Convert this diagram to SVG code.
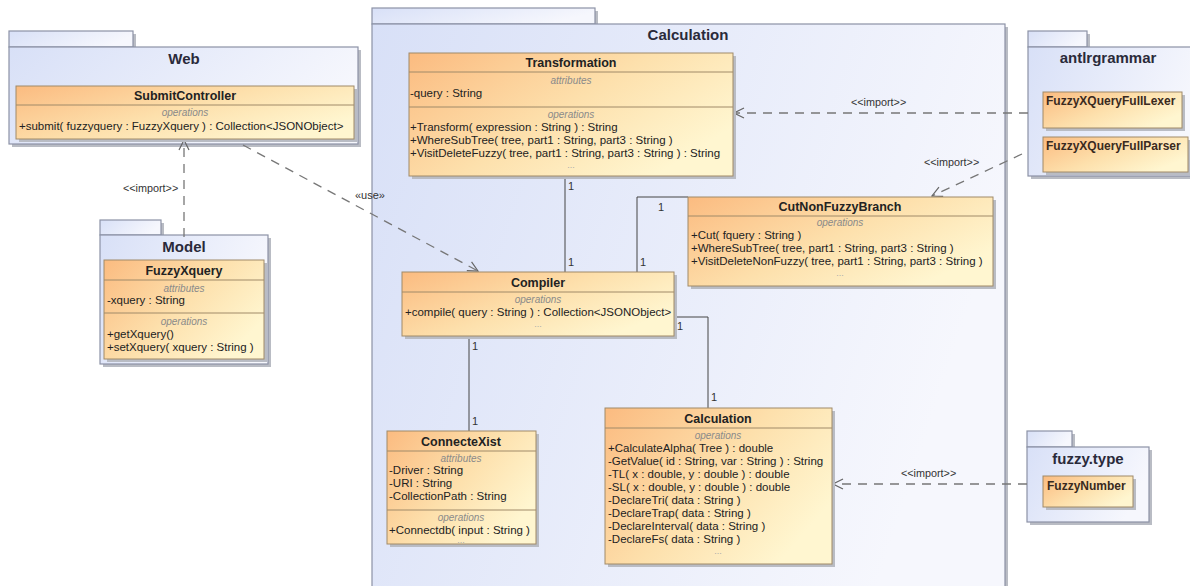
<svg xmlns="http://www.w3.org/2000/svg" width="1190" height="586" viewBox="0 0 1190 586">
<defs>
<linearGradient id="pkg" x1="0" y1="0" x2="1" y2="0.3">
<stop offset="0" stop-color="#d8e0f7"/>
<stop offset="1" stop-color="#f6f7fd"/>
</linearGradient>
<linearGradient id="cls" x1="0" y1="0" x2="1" y2="0.6">
<stop offset="0" stop-color="#fbbb80"/>
<stop offset="0.55" stop-color="#fde0ac"/>
<stop offset="1" stop-color="#fff6d0"/>
</linearGradient>
<marker id="open" viewBox="0 0 12 12" refX="11" refY="6" markerWidth="12" markerHeight="12" markerUnits="userSpaceOnUse" orient="auto">
<path d="M1,1 L11,6 L1,11" fill="none" stroke="#666" stroke-width="1.2"/>
</marker>
</defs>
<style>
.pk{fill:url(#pkg);stroke:#8c92a6;stroke-width:1.2}
.sh{fill:#b9bcc4}
.cl{fill:url(#cls);stroke:#a08a68;stroke-width:1}
.sep{stroke:#a08a68;stroke-width:1}
.pn{font-family:"Liberation Sans",Arial,sans-serif;font-weight:bold;font-size:15px;fill:#2a2a3a;text-anchor:middle}
.cn{font-family:"Liberation Sans",Arial,sans-serif;font-weight:bold;font-size:12.5px;fill:#222;text-anchor:middle}
.cn2{font-family:"Liberation Sans",Arial,sans-serif;font-weight:bold;font-size:12px;fill:#3a2a20}
.cp{font-family:"Liberation Sans",Arial,sans-serif;font-style:italic;font-size:10px;fill:#8a8a8a;text-anchor:middle}
.m{font-family:"Liberation Sans",Arial,sans-serif;font-size:11.5px;fill:#222}
.dots{font-family:"Liberation Sans",Arial,sans-serif;font-size:9px;fill:#aaa;text-anchor:middle}
.lbl{font-family:"Liberation Sans",Arial,sans-serif;font-size:10.8px;fill:#333}
.ml{font-family:"Liberation Sans",Arial,sans-serif;font-size:11px;fill:#333}
.dash{fill:none;stroke:#777;stroke-width:1.3;stroke-dasharray:9,7}
.sol{fill:none;stroke:#444;stroke-width:1}
</style>
<rect width="1190" height="586" fill="#ffffff"/>

<!-- Packages -->
<g id="pkg-web">
<rect x="12" y="34" width="124" height="16" class="sh"/>
<rect x="12" y="50" width="349" height="97" class="sh"/>
<rect x="9" y="31" width="124" height="16" class="pk"/>
<rect x="9" y="47" width="349" height="97" class="pk"/>
<text x="184" y="64" class="pn">Web</text>
</g>
<g id="pkg-model">
<rect x="103" y="223" width="61" height="15" class="sh"/>
<rect x="103" y="238" width="168" height="129" class="sh"/>
<rect x="100" y="220" width="61" height="15" class="pk"/>
<rect x="100" y="235" width="168" height="129" class="pk"/>
<text x="184" y="252" class="pn">Model</text>
</g>
<g id="pkg-calculation">
<rect x="375" y="11" width="223" height="16" class="sh"/>
<rect x="375" y="27" width="633" height="580" class="sh"/>
<rect x="372" y="8" width="223" height="16" class="pk"/>
<rect x="372" y="24" width="633" height="580" class="pk"/>
<text x="688" y="40" class="pn">Calculation</text>
</g>
<g id="pkg-antlrgrammar">
<rect x="1031" y="34" width="59" height="16" class="sh"/>
<rect x="1031" y="50" width="170" height="129" class="sh"/>
<rect x="1028" y="31" width="59" height="16" class="pk"/>
<rect x="1028" y="47" width="170" height="129" class="pk"/>
<text x="1108" y="63" class="pn">antlrgrammar</text>
</g>
<g id="pkg-fuzzytype">
<rect x="1030" y="434" width="45" height="16" class="sh"/>
<rect x="1030" y="450" width="122" height="75" class="sh"/>
<rect x="1027" y="431" width="45" height="16" class="pk"/>
<rect x="1027" y="447" width="122" height="75" class="pk"/>
<text x="1088" y="464" class="pn">fuzzy.type</text>
</g>

<!-- Connectors -->
<g id="connectors">
<path d="M184,237 L184,140" class="dash" marker-end="url(#open)"/>
<text x="123" y="192" class="lbl">&lt;&lt;import&gt;&gt;</text>
<path d="M243,145 L478,271" class="dash" marker-end="url(#open)"/>
<text x="355" y="199" class="ml">«use»</text>
<path d="M1028,113 L734,113" class="dash" marker-end="url(#open)"/>
<text x="851" y="106" class="lbl">&lt;&lt;import&gt;&gt;</text>
<path d="M1022,154 L932,196" class="dash" marker-end="url(#open)"/>
<text x="924" y="166" class="lbl">&lt;&lt;import&gt;&gt;</text>
<path d="M1027,484 L833,484" class="dash" marker-end="url(#open)"/>
<text x="901" y="477" class="lbl">&lt;&lt;import&gt;&gt;</text>
<path d="M565,176 L565,272" class="sol"/>
<text x="568" y="190" class="ml">1</text>
<text x="568" y="266" class="ml">1</text>
<path d="M637,272 L637,197 L688,197" class="sol"/>
<text x="658" y="211" class="ml">1</text>
<text x="640" y="266" class="ml">1</text>
<path d="M674,317 L708,317 L708,408" class="sol"/>
<text x="677" y="330" class="ml">1</text>
<text x="711" y="401" class="ml">1</text>
<path d="M469,336 L469,431" class="sol"/>
<text x="472" y="350" class="ml">1</text>
<text x="472" y="425" class="ml">1</text>
</g>

<!-- Classes -->
<g id="SubmitController">
<rect x="19" y="89" width="338" height="53" class="sh"/>
<rect x="16" y="86" width="338" height="53" class="cl"/>
<line x1="16" y1="105" x2="354" y2="105" class="sep"/>
<text x="185" y="100" class="cn">SubmitController</text>
<text x="185" y="116" class="cp">operations</text>
<text x="19" y="130" class="m">+submit( fuzzyquery : FuzzyXquery ) : Collection&lt;JSONObject&gt;</text>
</g>
<g id="FuzzyXquery">
<rect x="107" y="263" width="160" height="99" class="sh"/>
<rect x="104" y="260" width="160" height="99" class="cl"/>
<line x1="104" y1="280" x2="264" y2="280" class="sep"/>
<line x1="104" y1="313" x2="264" y2="313" class="sep"/>
<text x="184" y="275" class="cn">FuzzyXquery</text>
<text x="184" y="292" class="cp">attributes</text>
<text x="107" y="304" class="m">-xquery : String</text>
<text x="184" y="325" class="cp">operations</text>
<text x="107" y="338" class="m">+getXquery()</text>
<text x="107" y="351" class="m">+setXquery( xquery : String )</text>
</g>
<g id="Transformation">
<rect x="412" y="56" width="324" height="123" class="sh"/>
<rect x="409" y="53" width="324" height="123" class="cl"/>
<line x1="409" y1="72" x2="733" y2="72" class="sep"/>
<line x1="409" y1="107" x2="733" y2="107" class="sep"/>
<text x="571" y="67" class="cn">Transformation</text>
<text x="571" y="84" class="cp">attributes</text>
<text x="410" y="97" class="m">-query : String</text>
<text x="571" y="118" class="cp">operations</text>
<text x="410" y="131" class="m">+Transform( expression : String ) : String</text>
<text x="410" y="144" class="m">+WhereSubTree( tree, part1 : String, part3 : String )</text>
<text x="410" y="157" class="m">+VisitDeleteFuzzy( tree, part1 : String, part3 : String ) : String</text>
<text x="571" y="168" class="dots">...</text>
</g>
<g id="CutNonFuzzyBranch">
<rect x="691" y="200" width="305" height="89" class="sh"/>
<rect x="688" y="197" width="305" height="89" class="cl"/>
<line x1="688" y1="216" x2="993" y2="216" class="sep"/>
<text x="840" y="211" class="cn">CutNonFuzzyBranch</text>
<text x="840" y="226" class="cp">operations</text>
<text x="691" y="239" class="m">+Cut( fquery : String )</text>
<text x="691" y="252" class="m">+WhereSubTree( tree, part1 : String, part3 : String )</text>
<text x="691" y="265" class="m">+VisitDeleteNonFuzzy( tree, part1 : String, part3 : String )</text>
<text x="840" y="276" class="dots">...</text>
</g>
<g id="Compiler">
<rect x="405" y="275" width="272" height="64" class="sh"/>
<rect x="402" y="272" width="272" height="64" class="cl"/>
<line x1="402" y1="292" x2="674" y2="292" class="sep"/>
<text x="538" y="287" class="cn">Compiler</text>
<text x="538" y="303" class="cp">operations</text>
<text x="405" y="316" class="m">+compile( query : String ) : Collection&lt;JSONObject&gt;</text>
<text x="538" y="327" class="dots">...</text>
</g>
<g id="ConnecteXist">
<rect x="390" y="434" width="149" height="113" class="sh"/>
<rect x="387" y="431" width="149" height="113" class="cl"/>
<line x1="387" y1="451" x2="536" y2="451" class="sep"/>
<line x1="387" y1="510" x2="536" y2="510" class="sep"/>
<text x="461" y="446" class="cn">ConnecteXist</text>
<text x="461" y="462" class="cp">attributes</text>
<text x="389" y="474" class="m">-Driver : String</text>
<text x="389" y="487" class="m">-URI : String</text>
<text x="389" y="500" class="m">-CollectionPath : String</text>
<text x="461" y="521" class="cp">operations</text>
<text x="389" y="534" class="m">+Connectdb( input : String )</text>
<text x="461" y="543" class="dots">...</text>
</g>
<g id="Calculation">
<rect x="608" y="411" width="227" height="156" class="sh"/>
<rect x="605" y="408" width="227" height="156" class="cl"/>
<line x1="605" y1="428" x2="832" y2="428" class="sep"/>
<text x="718" y="423" class="cn">Calculation</text>
<text x="718" y="439" class="cp">operations</text>
<text x="608" y="452" class="m">+CalculateAlpha( Tree ) : double</text>
<text x="608" y="465" class="m">-GetValue( id : String, var : String ) : String</text>
<text x="608" y="478" class="m">-TL( x : double, y : double ) : double</text>
<text x="608" y="491" class="m">-SL( x : double, y : double ) : double</text>
<text x="608" y="504" class="m">-DeclareTri( data : String )</text>
<text x="608" y="517" class="m">-DeclareTrap( data : String )</text>
<text x="608" y="530" class="m">-DeclareInterval( data : String )</text>
<text x="608" y="543" class="m">-DeclareFs( data : String )</text>
<text x="718" y="554" class="dots">...</text>
</g>
<g id="FuzzyXQueryFullLexer">
<rect x="1046" y="95" width="139" height="36" class="sh"/>
<rect x="1043" y="92" width="139" height="36" class="cl"/>
<text x="1046" y="105" class="cn2">FuzzyXQueryFullLexer</text>
</g>
<g id="FuzzyXQueryFullParser">
<rect x="1046" y="140" width="145" height="35" class="sh"/>
<rect x="1043" y="137" width="145" height="35" class="cl"/>
<text x="1046" y="150" class="cn2">FuzzyXQueryFullParser</text>
</g>
<g id="FuzzyNumber">
<rect x="1046" y="479" width="90" height="31" class="sh"/>
<rect x="1043" y="476" width="90" height="31" class="cl"/>
<text x="1047" y="490" class="cn2">FuzzyNumber</text>
</g>
</svg>
